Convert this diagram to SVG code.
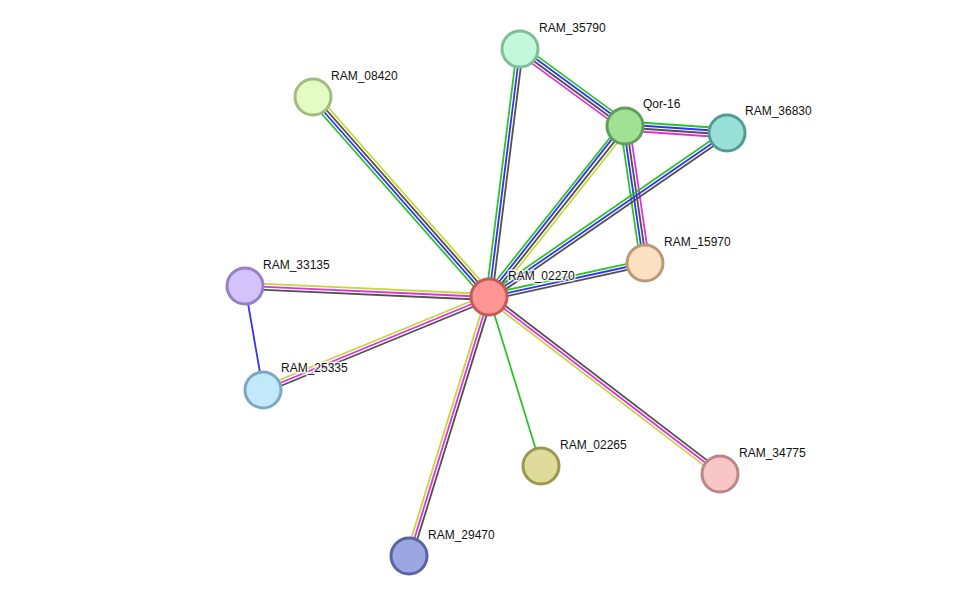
<svg xmlns="http://www.w3.org/2000/svg" width="976" height="602" viewBox="0 0 976 602">
<style>
.e line{stroke-width:1.8;fill:none}
.g{stroke:#2cc22c}.b{stroke:#3434f0}.k{stroke:#505050}.m{stroke:#e030e0}.y{stroke:#c4d83c}
.n circle{stroke-width:3}
.n text{font-family:"Liberation Sans",Arial,sans-serif;font-size:12px;fill:#111;stroke:#fff;stroke-width:3;stroke-opacity:0.8;paint-order:stroke;stroke-linejoin:round}
</style>
<rect width="976" height="602" fill="#fff"/>
<g id="edges" class="e">
<line class="g" x1="485.62" y1="299.97" x2="309.62" y2="99.97"/>
<line class="b" x1="487.87" y1="297.99" x2="311.87" y2="97.99"/>
<line class="k" x1="490.13" y1="296.01" x2="314.13" y2="96.01"/>
<line class="y" x1="492.38" y1="294.03" x2="316.38" y2="94.03"/>

<line class="g" x1="486.02" y1="296.63" x2="517.02" y2="48.63"/>
<line class="b" x1="489" y1="297" x2="520" y2="49"/>
<line class="k" x1="491.98" y1="297.37" x2="522.98" y2="49.37"/>

<line class="g" x1="522.66" y1="45.37" x2="627.66" y2="122.37"/>
<line class="b" x1="520.89" y1="47.79" x2="625.89" y2="124.79"/>
<line class="k" x1="519.11" y1="50.21" x2="624.11" y2="127.21"/>
<line class="m" x1="517.34" y1="52.63" x2="622.34" y2="129.63"/>

<line class="g" x1="485.48" y1="294.20" x2="621.48" y2="123.20"/>
<line class="b" x1="487.83" y1="296.07" x2="623.83" y2="124.07"/>
<line class="k" x1="490.17" y1="297.93" x2="626.17" y2="126.93"/>
<line class="y" x1="492.52" y1="299.80" x2="628.52" y2="128.80"/>

<line class="g" x1="625.31" y1="121.51" x2="727.31" y2="128.51"/>
<line class="b" x1="625.10" y1="124.50" x2="727.10" y2="131.50"/>
<line class="k" x1="624.90" y1="127.50" x2="726.90" y2="134.50"/>
<line class="m" x1="624.69" y1="130.49" x2="726.69" y2="137.49"/>

<line class="g" x1="620.55" y1="126.65" x2="640.55" y2="263.65"/>
<line class="b" x1="623.52" y1="126.22" x2="643.52" y2="263.22"/>
<line class="k" x1="626.48" y1="125.78" x2="646.48" y2="262.78"/>
<line class="m" x1="629.45" y1="125.35" x2="649.45" y2="262.35"/>

<line class="g" x1="487.30" y1="294.53" x2="725.30" y2="130.53"/>
<line class="b" x1="489" y1="297" x2="727" y2="133"/>
<line class="k" x1="490.70" y1="299.47" x2="728.70" y2="135.47"/>

<line class="g" x1="488.36" y1="294.07" x2="644.36" y2="260.07"/>
<line class="b" x1="489" y1="297" x2="645" y2="263"/>
<line class="k" x1="489.64" y1="299.93" x2="645.64" y2="265.93"/>

<line class="y" x1="489.14" y1="294" x2="245.14" y2="283"/>
<line class="m" x1="489" y1="297" x2="245" y2="286"/>
<line class="k" x1="488.86" y1="300" x2="244.86" y2="289"/>

<line class="b" x1="245" y1="286" x2="263" y2="390"/>

<line class="y" x1="487.86" y1="294.22" x2="261.86" y2="387.22"/>
<line class="m" x1="489" y1="297" x2="263" y2="390"/>
<line class="k" x1="490.14" y1="299.78" x2="264.14" y2="392.78"/>

<line class="y" x1="486.13" y1="296.11" x2="406.13" y2="555.11"/>
<line class="m" x1="489" y1="297" x2="409" y2="556"/>
<line class="k" x1="491.87" y1="297.89" x2="411.87" y2="556.89"/>

<line class="g" x1="489" y1="297" x2="541" y2="466"/>

<line class="k" x1="490.82" y1="294.62" x2="721.82" y2="471.62"/>
<line class="m" x1="489" y1="297" x2="720" y2="474"/>
<line class="y" x1="487.18" y1="299.38" x2="718.18" y2="476.38"/>
</g>
<g id="RAM_35790" class="n"><circle cx="520" cy="49" r="18" fill="#c4f8da" stroke="#7fbf98"/><text x="539" y="32">RAM_35790</text></g>
<g id="RAM_08420" class="n"><circle cx="313" cy="97" r="18" fill="#e2fcc4" stroke="#a2bc80"/><text x="331" y="80">RAM_08420</text></g>
<g id="Qor-16" class="n"><circle cx="625" cy="126" r="18" fill="#a0e194" stroke="#5f9e5c"/><text x="643" y="108">Qor-16</text></g>
<g id="RAM_36830" class="n"><circle cx="727" cy="133" r="18" fill="#98e0d8" stroke="#519c92"/><text x="745" y="115">RAM_36830</text></g>
<g id="RAM_15970" class="n"><circle cx="645" cy="263" r="18" fill="#fde0c2" stroke="#bb9977"/><text x="664" y="246">RAM_15970</text></g>
<g id="RAM_33135" class="n"><circle cx="245" cy="286" r="18" fill="#d4c2fa" stroke="#9482c2"/><text x="263" y="269">RAM_33135</text></g>
<g id="RAM_25335" class="n"><circle cx="263" cy="390" r="18" fill="#c2e8fc" stroke="#7ea8c2"/><text x="281" y="372">RAM_25335</text></g>
<g id="RAM_02265" class="n"><circle cx="541" cy="466" r="18" fill="#dfdb9a" stroke="#9c9852"/><text x="560" y="449">RAM_02265</text></g>
<g id="RAM_34775" class="n"><circle cx="720" cy="474" r="18" fill="#f8c6c6" stroke="#bb8686"/><text x="739" y="457">RAM_34775</text></g>
<g id="RAM_29470" class="n"><circle cx="409" cy="556" r="18" fill="#9ca6e2" stroke="#5a64a2"/><text x="428" y="539">RAM_29470</text></g>
<g id="RAM_02270" class="n"><circle cx="489" cy="297" r="18" fill="#ff9494" stroke="#c25a5a"/><text x="508" y="280">RAM_02270</text></g>
</svg>
